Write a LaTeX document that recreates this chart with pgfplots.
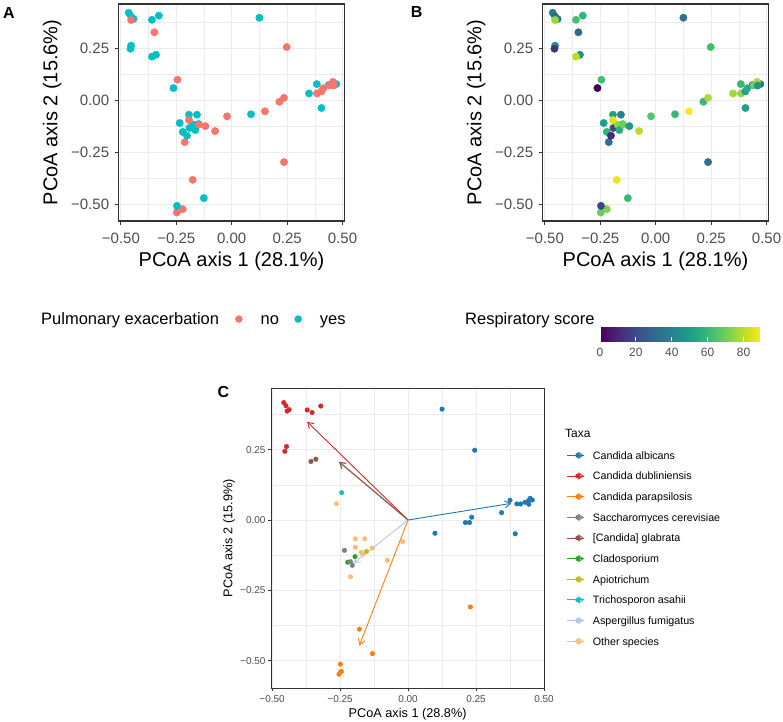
\documentclass[border=0pt]{standalone}
\usepackage{fontspec}
\setmainfont{Liberation Sans}
\usepackage{pgfplots}
\pgfplotsset{compat=1.18}
\usepackage{pgfplotstable}
\usetikzlibrary{arrows.meta,calc}

\definecolor{exno}{HTML}{F8766D}
\definecolor{exyes}{HTML}{00BFC4}
\definecolor{gridc}{HTML}{EBEBEB}
\definecolor{bordc}{HTML}{333333}
\definecolor{tickc}{HTML}{4D4D4D}
\definecolor{tblue}{HTML}{1F77B4}
\definecolor{tred}{HTML}{D62728}
\definecolor{torange}{HTML}{FF7F0E}
\definecolor{tgray}{HTML}{7F7F7F}
\definecolor{tbrown}{HTML}{8C564B}
\definecolor{tgreen}{HTML}{2CA02C}
\definecolor{tolive}{HTML}{BCBD22}
\definecolor{tcyan}{HTML}{17BECF}
\definecolor{tltblue}{HTML}{AEC7E8}
\definecolor{tltorange}{HTML}{FFBB78}

\newcommand{\fs}[1]{\fontsize{#1bp}{#1bp}\selectfont}

% panels A and B: same ordination, coloured by exacerbation / respiratory score
\pgfplotstableread{
x y ex score
-0.465 0.422 yes 38
-0.454 0.403 yes 30
-0.443 0.392 yes 35
-0.454 0.387 no 75
-0.360 0.388 yes 63
-0.329 0.408 yes 58
-0.349 0.328 no 30
-0.454 0.264 yes 45
-0.457 0.249 yes 12
-0.342 0.220 yes 45
-0.360 0.211 yes 80
-0.245 0.100 no 62
-0.263 0.060 yes 0
-0.193 -0.068 yes 50
-0.157 -0.068 yes 38
-0.235 -0.108 yes 50
-0.212 -0.200 no 33
-0.221 -0.151 yes 58
-0.202 -0.169 yes 10
-0.191 -0.132 yes 20
-0.171 -0.116 yes 75
-0.164 -0.142 yes 55
-0.149 -0.113 yes 68
-0.193 -0.094 no 85
-0.147 -0.116 no 70
-0.119 -0.123 no 48
-0.075 -0.147 no 80
-0.021 -0.076 no 65
-0.176 -0.381 no 87
-0.126 -0.469 yes 60
-0.248 -0.538 no 68
-0.221 -0.522 no 72
-0.247 -0.506 yes 18
0.125 0.398 yes 33
0.248 0.257 no 62
0.087 -0.066 yes 60
0.150 -0.052 no 90
0.215 -0.006 no 60
0.236 0.013 no 78
0.236 -0.296 no 33
0.349 0.034 yes 76
0.384 0.079 yes 60
0.405 -0.036 yes 50
0.438 0.075 yes 22
0.472 0.079 yes 33
0.385 0.034 no 74
0.405 0.044 no 50
0.413 0.059 no 55
0.442 0.074 no 70
0.457 0.090 no 78
0.460 0.072 no 45
}\pcoa

% panel C
\pgfplotstableread{
x y
0.125 0.394
0.245 0.248
0.375 0.070
0.400 0.057
0.414 0.057
0.430 0.063
0.443 0.069
0.449 0.077
0.457 0.071
0.444 0.056
0.344 0.026
0.234 0.010
0.211 -0.009
0.226 -0.009
0.099 -0.047
0.394 -0.049
}\calb
\pgfplotstableread{
x y
-0.457 0.417
-0.449 0.406
-0.445 0.387
-0.4375 0.392
-0.371 0.391
-0.353 0.382
-0.321 0.405
-0.447 0.261
-0.453 0.244
}\cdub
\pgfplotstableread{
x y
-0.179 -0.388
-0.131 -0.475
-0.249 -0.512
-0.249 -0.540
-0.254 -0.548
-0.245 -0.538
0.229 -0.309
}\cpar
\pgfplotstableread{
x y
-0.234 -0.108
-0.212 -0.148
-0.205 -0.161
}\scer
\pgfplotstableread{
x y
-0.357 0.208
-0.339 0.216
}\cgla
\pgfplotstableread{
x y
-0.195 -0.130
-0.222 -0.150
}\clad
\pgfplotstableread{
x y
-0.153 -0.112
}\apio
\pgfplotstableread{
x y
-0.244 0.097
}\tasa
\pgfplotstableread{
x y
-0.263 0.058
-0.194 -0.067
-0.159 -0.067
-0.194 -0.097
-0.173 -0.115
-0.167 -0.121
-0.132 -0.100
-0.077 -0.143
-0.020 -0.077
-0.212 -0.202
}\other

\pgfplotsset{
  gg/.style={
    scale only axis,
    axis line style={draw=bordc, line width=1.1bp},
    grid=both,
    major grid style={draw=gridc, line width=1.1bp},
    minor grid style={draw=gridc, line width=0.55bp},
    xtick={-0.5,-0.25,0,0.25,0.5},
    xticklabels={−0.50,−0.25,0.00,0.25,0.50},
    ytick={-0.5,-0.25,0,0.25},
    yticklabels={−0.50,−0.25,0.00,0.25},
    minor xtick={-0.375,-0.125,0.125,0.375},
    minor ytick={-0.375,-0.125,0.125,0.375},
    tick align=outside,
    minor tick length=0pt,
    major tick style={draw=bordc, line width=1.1bp},
    xtick pos=lower, ytick pos=left,
    ticklabel style={text=tickc, inner sep=0pt},
  },
}

\begin{document}
\begin{tikzpicture}
\path[use as bounding box] (0,0) rectangle (783bp,722bp);

% ---------------- A ----------------
\begin{axis}[gg, at={(118.5bp,501bp)}, anchor=south west,
  width=226bp, height=217bp,
  xmin=-0.511, xmax=0.509, ymin=-0.579, ymax=0.464,
  major tick length=3.7bp,
  xticklabel style={font=\fs{15}, yshift=-8.6bp},
  yticklabel style={font=\fs{15}, xshift=-5.5bp},
  xlabel={PCoA axis 1 (28.1\%)},
  xlabel style={font=\fs{20}, at={(axis description cs:0.5,-0.2106)}, anchor=base},
  ylabel={PCoA axis 2 (15.6\%)},
  ylabel style={font=\fs{20}, at={(axis description cs:-0.2708,0.5)}, anchor=base},
  legend image code/.code={\fill[#1] (0bp,0bp) circle (3.5bp);},
  legend columns=-1,
  legend style={at={(axis description cs:0.5155,-0.452)}, anchor=west,
    draw=none, fill=none, inner sep=0pt, font=\fs{16.5},
    nodes={inner sep=0pt, text height=11.8bp, text depth=0bp},
    /tikz/every odd column/.append style={column sep=18bp},
    /tikz/every even column/.append style={column sep=15.5bp}},
]
\addplot[scatter, only marks, mark=*, mark size=3.7bp, forget plot,
  scatter src=explicit symbolic,
  scatter/classes={no={draw=exno,fill=exno}, yes={draw=exyes,fill=exyes}}]
  table[x=x, y=y, meta=ex] {\pcoa};
\addlegendimage{exno}
\addlegendentry{no}
\addlegendimage{exyes}
\addlegendentry{yes}
\end{axis}

% ---------------- B ----------------
\begin{axis}[gg, at={(542.5bp,501bp)}, anchor=south west,
  width=226bp, height=217bp,
  xmin=-0.511, xmax=0.509, ymin=-0.579, ymax=0.464,
  major tick length=3.7bp,
  xticklabel style={font=\fs{15}, yshift=-8.6bp},
  yticklabel style={font=\fs{15}, xshift=-5.5bp},
  xlabel={PCoA axis 1 (28.1\%)},
  xlabel style={font=\fs{20}, at={(axis description cs:0.5,-0.2106)}, anchor=base},
  ylabel={PCoA axis 2 (15.6\%)},
  ylabel style={font=\fs{20}, at={(axis description cs:-0.2708,0.5)}, anchor=base},
  colormap name=viridis,
  point meta min=0, point meta max=89.2,
  colorbar horizontal,
  colorbar style={
    at={($(parent axis.south west)+(57.5bp,-80bp)$)}, anchor=north west,
    scale only axis, width=160bp, height=31.7bp,
    grid=none, xlabel={}, ylabel={},
    xtick={0,20,40,60,80}, xticklabels={0,20,40,60,80},
    minor xtick={}, minor ytick={}, ytick=\empty,
    xtick align=inside, xtick pos=both, xticklabel pos=lower,
    major tick length=4.5bp,
    major tick style={draw=white, line width=0.9bp},
    axis line style={draw=none},
    xticklabel style={font=\fs{12}, text=tickc, inner sep=0pt, yshift=-7bp},
  },
]
\addplot[scatter, only marks, mark=*, mark size=3.7bp, forget plot,
  point meta=explicit,
  scatter/use mapped color={draw=mapped color, fill=mapped color}]
  table[x=x, y=y, meta=score] {\pcoa};
\end{axis}

% ---------------- C ----------------
\begin{axis}[gg, at={(271bp,33.7bp)}, anchor=south west,
  width=273.3bp, height=300bp,
  xmin=-0.504, xmax=0.501, ymin=-0.598, ymax=0.468,
  axis line style={draw=bordc, line width=0.9bp},
  major grid style={draw=gridc, line width=0.9bp},
  minor grid style={draw=gridc, line width=0.45bp},
  major tick style={draw=bordc, line width=0.9bp},
  major tick length=2.7bp,
  xticklabel style={font=\fs{10}, yshift=-4bp},
  yticklabel style={font=\fs{10}, xshift=-2.6bp},
  xlabel={PCoA axis 1 (28.8\%)},
  xlabel style={font=\fs{12.7}, at={(axis description cs:0.5,-0.0967)}, anchor=base},
  ylabel={PCoA axis 2 (15.9\%)},
  ylabel style={font=\fs{12.7}, at={(axis description cs:-0.141,0.5)}, anchor=base},
  legend image code/.code={
    \draw[#1, line width=0.9bp] (0bp,0bp) -- (16.7bp,0bp);
    \fill[#1] (10.5bp,0bp) circle (2.3bp);
    \draw[#1, line width=0.9bp] (11bp,3.2bp) -- (15.5bp,0bp) -- (11bp,-3.2bp);
  },
  legend cell align=left,
  legend style={at={(axis description cs:1.082,0.79)}, anchor=north west,
    draw=none, fill=none, inner sep=0pt, row sep=13bp, font=\fs{10.7},
    nodes={inner sep=0pt, text height=7.66bp, text depth=0bp},
    /tikz/every odd column/.append style={column sep=8.4bp}},
]
\addplot[only marks, mark=*, mark size=2.3bp, color=tblue, forget plot] table {\calb};
\addplot[only marks, mark=*, mark size=2.3bp, color=tred, forget plot] table {\cdub};
\addplot[only marks, mark=*, mark size=2.3bp, color=torange, forget plot] table {\cpar};
\addplot[only marks, mark=*, mark size=2.3bp, color=tbrown, forget plot] table {\cgla};
\addplot[only marks, mark=*, mark size=2.3bp, color=tcyan, forget plot] table {\tasa};
\addplot[only marks, mark=*, mark size=2.3bp, color=tltorange, forget plot] table {\other};
\addplot[only marks, mark=*, mark size=2.3bp, color=tgreen, forget plot] table {\clad};
\addplot[only marks, mark=*, mark size=2.3bp, color=tolive, forget plot] table {\apio};
\addplot[only marks, mark=*, mark size=2.3bp, color=tgray, forget plot] table {\scer};
% loading arrows
\addplot[tred, line width=0.9bp, forget plot, -{Straight Barb[length=5.5bp,width=7bp]}] coordinates {(0,0) (-0.371,0.349)};
\addplot[tbrown, line width=1.2bp, forget plot, -{Straight Barb[length=5.5bp,width=7bp]}] coordinates {(0,0) (-0.254,0.207)};
\addplot[tltblue, line width=0.9bp, forget plot, -{Straight Barb[length=5.5bp,width=7bp]}] coordinates {(0,0) (-0.200,-0.153)};
\addplot[torange, line width=0.9bp, forget plot, -{Straight Barb[length=5.5bp,width=7bp]}] coordinates {(0,0) (-0.179,-0.446)};
\addplot[tblue, line width=0.9bp, forget plot, -{Straight Barb[length=5.5bp,width=7bp]}] coordinates {(0,0) (0.379,0.059)};
\addlegendimage{tblue}\addlegendentry{Candida albicans}
\addlegendimage{tred}\addlegendentry{Candida dubliniensis}
\addlegendimage{torange}\addlegendentry{Candida parapsilosis}
\addlegendimage{tgray}\addlegendentry{Saccharomyces cerevisiae}
\addlegendimage{tbrown}\addlegendentry{[Candida] glabrata}
\addlegendimage{tgreen}\addlegendentry{Cladosporium}
\addlegendimage{tolive}\addlegendentry{Apiotrichum}
\addlegendimage{tcyan}\addlegendentry{Trichosporon asahii}
\addlegendimage{tltblue}\addlegendentry{Aspergillus fumigatus}
\addlegendimage{tltorange}\addlegendentry{Other species}
\end{axis}

% panel letters and legend titles
\node[anchor=base west, inner sep=0pt, font=\fs{16}\bfseries] at (3bp,703.7bp) {A};
\node[anchor=base west, inner sep=0pt, font=\fs{16}\bfseries] at (410.7bp,704.7bp) {B};
\node[anchor=base west, inner sep=0pt, font=\fs{16}\bfseries] at (217.3bp,324.7bp) {C};
\node[anchor=base west, inner sep=0pt, font=\fs{16.5}] at (41bp,397bp) {Pulmonary exacerbation};
\node[anchor=base west, inner sep=0pt, font=\fs{16.5}] at (465bp,397bp) {Respiratory score};
\node[anchor=base west, inner sep=0pt, font=\fs{12}] at (565bp,284.7bp) {Taxa};
\end{tikzpicture}
\end{document}
